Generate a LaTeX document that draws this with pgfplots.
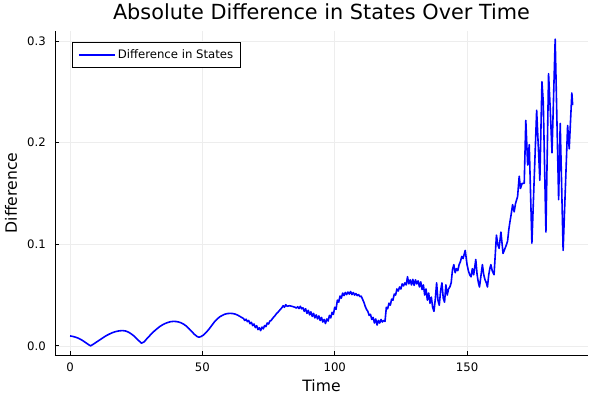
\documentclass[border=0pt]{standalone}
\usepackage{fontspec}
\setmainfont{DejaVu Sans}
\usepackage{pgfplots}
\pgfplotsset{compat=1.18}
\usepackage{pgfplotstable}
\pgfplotstableread{
t v
0 0.0098
1 0.0093
2 0.0086
3 0.0077
4 0.0064
5 0.0048
6 0.0030
7 0.0012
7.75 0.0000
9 0.0020
10 0.0038
11 0.0055
12 0.0072
13 0.0090
14 0.0105
15 0.0118
16 0.0130
17 0.0139
18 0.0145
19 0.0149
20 0.0150
21 0.0146
22 0.0136
23 0.0120
24 0.0100
25 0.0076
26 0.0050
27 0.0026
28 0.0040
29 0.0070
30 0.0098
31 0.0125
32 0.0150
33 0.0172
34 0.0192
35 0.0208
36 0.0221
37 0.0231
38 0.0238
39 0.0241
40 0.0240
41 0.0235
42 0.0226
43 0.0212
44 0.0193
45 0.0168
46 0.0140
47 0.0113
48 0.0092
48.7 0.0085
49.5 0.0092
50.5 0.0108
51.5 0.0135
52.5 0.0165
53.5 0.0200
54.5 0.0235
55.5 0.0262
56.5 0.0285
57.5 0.0300
58.5 0.0312
59.5 0.0318
60.5 0.0320
61.5 0.0318
62.5 0.0312
63.5 0.0300
64.5 0.0285
65.5 0.0270
66 0.0250
66.5 0.0262
67 0.0238
67.5 0.0250
68 0.0218
68.5 0.0232
69 0.0200
69.5 0.0215
70 0.0180
70.5 0.0198
71 0.0160
71.5 0.0178
72 0.0150
72.5 0.0185
73 0.0168
73.5 0.0200
74 0.0190
74.5 0.0225
75 0.0215
75.5 0.0245
76 0.0250
76.5 0.0270
77 0.0285
77.5 0.0300
78 0.0318
78.5 0.0330
79 0.0345
79.5 0.0360
80 0.0375
80.5 0.0395
81 0.0380
81.5 0.0405
82 0.0390
83 0.0395
84 0.0388
85 0.0380
85.5 0.0372
86 0.0385
86.5 0.0368
87 0.0390
87.5 0.0365
88 0.0375
88.5 0.0340
89 0.0365
89.5 0.0320
90 0.0350
90.5 0.0305
91 0.0335
91.5 0.0290
92 0.0320
92.5 0.0275
93 0.0305
93.5 0.0265
94 0.0295
94.5 0.0250
95 0.0280
95.5 0.0235
96 0.0260
96.5 0.0220
97 0.0265
97.5 0.0245
98 0.0300
98.5 0.0275
99 0.0330
99.5 0.0310
100 0.0380
100.5 0.0360
101 0.0450
101.5 0.0430
102 0.0490
102.5 0.0470
103 0.0520
103.5 0.0495
104 0.0525
104.5 0.0505
105 0.0530
105.5 0.0510
106 0.0535
106.5 0.0505
107 0.0525
107.5 0.0500
108 0.0515
108.5 0.0495
109 0.0505
109.5 0.0485
110 0.0490
110.5 0.0460
111 0.0430
111.5 0.0390
112 0.0360
112.5 0.0340
113 0.0300
113.5 0.0310
114 0.0260
114.5 0.0280
115 0.0225
115.5 0.0265
116 0.0205
116.5 0.0250
117 0.0225
117.5 0.0260
118 0.0235
118.5 0.0250
119 0.0240
119.5 0.0380
120 0.0365
120.5 0.0420
121 0.0400
121.5 0.0460
122 0.0450
122.5 0.0510
123 0.0500
123.5 0.0560
124 0.0540
124.5 0.0580
125 0.0560
125.5 0.0610
126 0.0590
126.5 0.0620
127 0.0600
127.5 0.0680
128 0.0610
128.5 0.0650
129 0.0600
129.5 0.0655
130 0.0595
130.5 0.0650
131 0.0610
131.5 0.0640
132 0.0580
132.5 0.0630
133 0.0555
133.5 0.0600
134 0.0500
134.5 0.0560
135 0.0450
135.5 0.0520
136 0.0420
136.5 0.0480
137 0.0380
137.5 0.0340
138 0.0460
138.5 0.0620
139 0.0450
139.5 0.0400
140 0.0540
140.5 0.0620
141 0.0470
141.5 0.0430
142 0.0600
142.5 0.0500
143 0.0560
143.5 0.0580
144 0.0620
144.5 0.0750
145 0.0800
145.5 0.0720
146 0.0760
146.5 0.0740
147 0.0800
147.5 0.0830
148 0.0880
148.5 0.0860
149.3 0.0940
150 0.0800
150.5 0.0740
151 0.0700
151.5 0.0680
152 0.0760
152.5 0.0700
153.3 0.0850
153.8 0.0700
154.3 0.0620
154.7 0.0580
155.2 0.0680
155.8 0.0800
156.3 0.0700
156.8 0.0650
157.3 0.0620
157.7 0.0580
158.2 0.0700
158.6 0.0760
159 0.0800
159.5 0.0740
160.2 0.0700
161.1 0.1090
161.6 0.1000
162.1 0.0960
162.8 0.1120
163.6 0.0910
164.2 0.0950
164.8 0.0990
165.3 0.1030
165.8 0.1150
166.2 0.1220
166.7 0.1300
167.2 0.1390
167.8 0.1320
168.3 0.1400
169.1 0.1470
169.7 0.1670
170.2 0.1550
170.8 0.1600
171.6 0.1600
172.2 0.2220
172.9 0.1780
173.5 0.1980
174.5 0.1010
176.3 0.2320
177.5 0.1630
178.3 0.2600
178.8 0.2400
179.8 0.1120
180.8 0.2680
181.4 0.2350
182.1 0.1900
183.3 0.3020
184.6 0.1440
185.2 0.2190
186.3 0.0940
188 0.2170
188.6 0.1940
189.6 0.2490
189.9 0.2370
}\diffdata
\begin{document}
\begin{tikzpicture}
\useasboundingbox (0,0) rectangle (600pt,400pt);
\begin{axis}[
  at={(55pt,45pt)}, anchor=south west,
  scale only axis, width=533pt, height=324pt,
  xmin=-5.7, xmax=195.7, ymin=-0.009, ymax=0.31,
  axis lines*=left, axis line style={-, line width=0.9pt},
  xtick={0,50,100,150}, ytick={0,0.1,0.2,0.3},
  y tick label style={/pgf/number format/fixed, /pgf/number format/fixed zerofill, /pgf/number format/precision=1},
  /pgf/number format/assume math mode=true,
  tick align=inside, major tick length=4.5pt,
  tick style={black, line width=0.8pt},
  grid=major, grid style={black!7, line width=0.6pt},
  ticklabel style={font=\fontsize{11.7}{14}\selectfont},
  xticklabel style={anchor=base, yshift=-16pt, inner sep=0pt},
  yticklabel style={anchor=east, xshift=-9pt, inner sep=0pt},
  title={Absolute Difference in States Over Time},
  title style={at={(axis description cs:0.5,1)}, anchor=base, yshift=6pt, font=\fontsize{20.8}{24}\selectfont},
  xlabel={Time}, ylabel={Difference},
  xlabel style={at={(axis description cs:0.5,0)}, anchor=base, yshift=-36pt, font=\fontsize{15.6}{18}\selectfont},
  ylabel style={at={(axis description cs:-0.0715,0.5)}, anchor=base, font=\fontsize{15.6}{18}\selectfont},
  legend style={at={(axis description cs:0,1)}, anchor=north west, xshift=17.3pt, yshift=-11.3pt,
    draw=black, line width=0.8pt, font=\fontsize{11.7}{14}\selectfont, inner xsep=5.5pt, inner ysep=5pt},
  legend image code/.code={\draw[#1] (0pt,0pt) -- (36pt,0pt);},
]
\addplot[color={rgb,255:red,0;green,0;blue,255}, line width=1.6pt, line join=round] table[x=t, y=v] {\diffdata};
\addlegendentry{Difference in States}
\end{axis}
\end{tikzpicture}
\end{document}
